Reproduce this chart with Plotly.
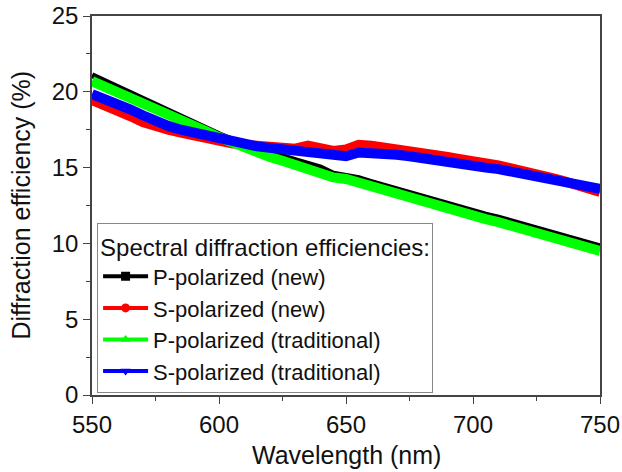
import plotly.graph_objects as go

wavelength = list(range(550, 751, 5))

p_new = [21.1, 20.7, 20.3, 19.95, 19.6, 19.2, 18.8, 18.4, 18.0, 17.6, 17.2, 16.85, 16.55, 16.25,
         16.0, 15.75, 15.5, 15.25, 15.0, 14.6, 14.5, 14.3, 14.05, 13.8, 13.55, 13.3, 13.1, 12.85,
         12.6, 12.4, 12.15, 11.9, 11.7, 11.45, 11.2, 11.0, 10.75, 10.5, 10.25, 10.0, 9.8]
s_new = [19.45, 19.15, 18.8, 18.4, 18.0, 17.7, 17.5, 17.3, 17.1, 16.9, 16.75, 16.6, 16.5, 16.45,
         16.35, 16.3, 16.25, 16.45, 16.2, 16.1, 16.2, 16.5, 16.45, 16.35, 16.25, 16.1, 15.95, 15.8,
         15.7, 15.55, 15.45, 15.3, 15.15, 14.95, 14.8, 14.6, 14.35, 14.15, 13.95, 13.7, 13.4]
p_trad = [20.7, 20.35, 20.0, 19.65, 19.25, 18.9, 18.5, 18.15, 17.8, 17.4, 17.0, 16.65, 16.3, 16.0,
          15.7, 15.45, 15.15, 14.95, 14.7, 14.35, 14.25, 14.0, 13.7, 13.45, 13.25, 13.0, 12.8, 12.55,
          12.3, 12.1, 11.85, 11.6, 11.4, 11.15, 10.9, 10.7, 10.45, 10.2, 9.95, 9.7, 9.5]
s_trad = [19.85, 19.55, 19.2, 18.85, 18.45, 18.05, 17.75, 17.5, 17.3, 17.05, 16.85, 16.65, 16.5, 16.4,
          16.3, 16.2, 16.1, 16.0, 15.85, 15.75, 15.75, 16.0, 16.0, 15.95, 15.85, 15.75, 15.6, 15.5,
          15.35, 15.25, 15.15, 15.0, 14.9, 14.75, 14.55, 14.4, 14.2, 14.05, 13.9, 13.75, 13.6]

series_names = ["P-polarized (new)", "S-polarized (new)",
                "P-polarized (traditional)", "S-polarized (traditional)"]
series_values = [p_new, s_new, p_trad, s_trad]
colors = ["#000000", "#FF0000", "#00FF00", "#0000FF"]
widths = [6, 10, 10, 10]
symbols = ["square", "circle", "triangle-up", "triangle-down"]

x_ticks = [550, 600, 650, 700, 750]
y_ticks = [0, 5, 10, 15, 20, 25]

FONT = "Liberation Sans, Arial, sans-serif"
TXT = "#111111"

fig = go.Figure()
for name, vals, c, w in zip(series_names, series_values, colors, widths):
    fig.add_trace(go.Scatter(x=wavelength, y=vals, mode="lines", name=name,
                             line=dict(color=c, width=w), showlegend=False))
for name, c, s in zip(series_names, colors, symbols):
    fig.add_trace(go.Scatter(x=[None], y=[None], mode="lines+markers", name=name,
                             line=dict(color=c, width=4),
                             marker=dict(color=c, symbol=s, size=9)))

axis_common = dict(showline=True, linecolor="#444", linewidth=1.5, mirror=True,
                   ticks="outside", ticklen=7, tickwidth=1.2, tickcolor="#444",
                   showgrid=False, zeroline=False, automargin=False,
                   tickfont=dict(family=FONT, size=24, color=TXT))

fig.update_xaxes(range=[550, 750], tickvals=x_ticks,
                 minor=dict(dtick=25, ticklen=4, tickcolor="#444", ticks="outside"),
                 **axis_common)
fig.update_yaxes(range=[0, 25], tickvals=y_ticks,
                 minor=dict(dtick=2.5, ticklen=4, tickcolor="#444", ticks="outside"),
                 **axis_common)

fig.add_annotation(text="Wavelength (nm)", xref="paper", yref="paper", x=0.5, y=0,
                   xanchor="center", yanchor="middle", yshift=-60, showarrow=False,
                   font=dict(family=FONT, size=25, color=TXT))
fig.add_annotation(text="Diffraction efficiency (%)", xref="paper", yref="paper", x=0, y=0.5,
                   xanchor="center", yanchor="middle", xshift=-72, textangle=-90, showarrow=False,
                   font=dict(family=FONT, size=25, color=TXT))

fig.update_layout(
    width=622, height=472,
    margin=dict(l=92, r=22, t=16, b=77),
    plot_bgcolor="white", paper_bgcolor="white",
    legend=dict(x=0.01, y=0.453, xanchor="left", yanchor="top",
                bgcolor="white", bordercolor="#888", borderwidth=1,
                title=dict(text="Spectral diffraction efficiencies:",
                           font=dict(family=FONT, size=24, color=TXT),
                           side="top"),
                font=dict(family=FONT, size=22, color=TXT),
                tracegroupgap=0, itemwidth=45),
)

fig.write_html("out.html", config={"displayModeBar": False},
               post_script="document.body.style.margin='0px';")
